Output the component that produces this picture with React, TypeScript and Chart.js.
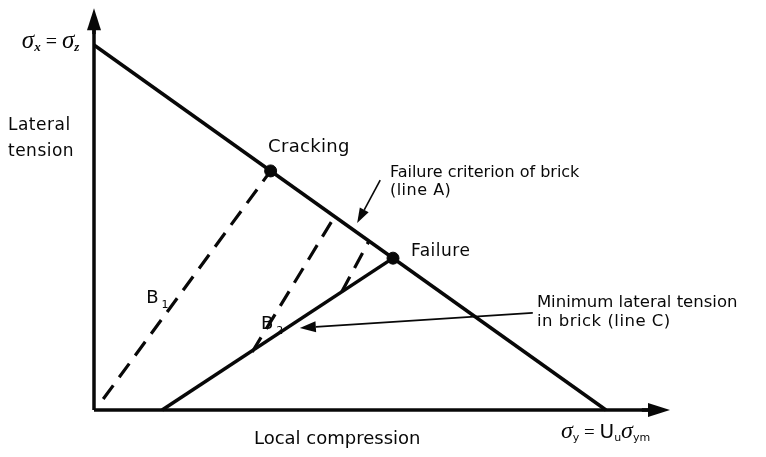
import React, { useEffect, useRef } from "react";
import { Chart, registerables } from "chart.js";

Chart.register(...registerables);

// Diagram units: local compression (σy) along x, lateral tension (σx) along y.
// Line A meets both axes at 10.
const lineA = [{ x: 0, y: 10 }, { x: 10, y: 0 }];
const lineC = [{ x: 1.33, y: 0 }, { x: 5.84, y: 4.16 }];
const lineB1 = [{ x: 0.18, y: 0.3 }, { x: 3.45, y: 6.55 }];
const lineB2 = [{ x: 3.09, y: 1.59 }, { x: 4.7, y: 5.3 }];
const lineB3 = [{ x: 4.84, y: 3.24 }, { x: 5.37, y: 4.63 }];
const keyPoints = [{ x: 3.45, y: 6.55 }, { x: 5.84, y: 4.16 }]; // Cracking, Failure
const yAxisLine = [{ x: 0, y: 0 }, { x: 0, y: 10.5 }];
const xAxisLine = [{ x: 0, y: 0 }, { x: 10.9, y: 0 }];

// Arrows (tail -> head) in diagram units
const arrows = [
  { from: [0, 10.3], to: [0, 11.01], len: 22, half: 7, width: 3.5 },
  { from: [10.7, 0], to: [11.25, 0], len: 22, half: 7, width: 3.5 },
  { from: [5.59, 6.3], to: [5.14, 5.12], len: 15, half: 5, width: 1.6 },
  { from: [8.57, 2.66], to: [4.02, 2.25], len: 16, half: 5.5, width: 1.6 },
];

const textLabels = [
  { text: "Lateral", x: -1.68, y: 7.67, size: 17, align: "left", spacing: 0.5 },
  { text: "tension", x: -1.68, y: 6.96, size: 17, align: "left", spacing: 0.5 },
  { text: "Cracking", x: 3.4, y: 7.07, size: 18, align: "left", spacing: 0.3 },
  { text: "Failure", x: 6.19, y: 4.22, size: 17, align: "left", spacing: 0.5 },
  { text: "Failure criterion of brick", x: 5.78, y: 6.38, size: 16, align: "left", spacing: 0 },
  { text: "(line A)", x: 5.78, y: 5.89, size: 16, align: "left", spacing: 0.5 },
  { text: "Minimum lateral tension", x: 8.65, y: 2.82, size: 16.5, align: "left", spacing: 0 },
  { text: "in brick (line C)", x: 8.65, y: 2.3, size: 16.5, align: "left", spacing: 0.5 },
  { text: "Local compression", x: 4.75, y: -0.93, size: 18, align: "center", spacing: 0 },
];

const richLabels = [
  {
    x: 1.02, y: 2.93,
    parts: [
      { t: "B", family: "DejaVu Sans", size: 18, style: "" },
      { t: "1", family: "DejaVu Sans", size: 11, style: "", sub: 5, gap: 3 },
    ],
  },
  {
    x: 3.26, y: 2.21,
    parts: [
      { t: "B", family: "DejaVu Sans", size: 18, style: "" },
      { t: "2", family: "DejaVu Sans", size: 11, style: "", sub: 5, gap: 3 },
    ],
  },
  {
    x: -1.41, y: 9.92,
    parts: [
      { t: "σ", family: "Liberation Serif", size: 25, style: "italic" },
      { t: "x", family: "Liberation Serif", size: 13, style: "italic bold", sub: 3 },
      { t: " = ", family: "Liberation Serif", size: 20, style: "" },
      { t: "σ", family: "Liberation Serif", size: 25, style: "italic" },
      { t: "z", family: "Liberation Serif", size: 13, style: "italic bold", sub: 3 },
    ],
  },
  {
    x: 9.12, y: -0.77,
    parts: [
      { t: "σ", family: "Liberation Serif", size: 24, style: "italic" },
      { t: "y", family: "DejaVu Sans", size: 11, style: "", sub: 3 },
      { t: " = ", family: "Liberation Serif", size: 19, style: "" },
      { t: "U", family: "DejaVu Sans", size: 20, style: "" },
      { t: "u", family: "DejaVu Sans", size: 11, style: "", sub: 3 },
      { t: "σ", family: "Liberation Serif", size: 24, style: "italic" },
      { t: "ym", family: "DejaVu Sans", size: 11, style: "", sub: 3 },
    ],
  },
];

const INK = "#080808";

const diagramPlugin = {
  id: "diagram",
  afterDatasetsDraw(chart: any) {
    const { ctx } = chart;
    const xs = chart.scales.x;
    const ys = chart.scales.y;
    const px = (v: number) => xs.getPixelForValue(v);
    const py = (v: number) => ys.getPixelForValue(v);
    ctx.save();
    ctx.fillStyle = INK;
    ctx.strokeStyle = INK;

    arrows.forEach((a) => {
      const x1 = px(a.from[0]), y1 = py(a.from[1]);
      const x2 = px(a.to[0]), y2 = py(a.to[1]);
      const ang = Math.atan2(y2 - y1, x2 - x1);
      const bx = x2 - a.len * Math.cos(ang);
      const by = y2 - a.len * Math.sin(ang);
      ctx.lineWidth = a.width;
      ctx.beginPath();
      ctx.moveTo(x1, y1);
      ctx.lineTo(bx, by);
      ctx.stroke();
      ctx.beginPath();
      ctx.moveTo(x2, y2);
      ctx.lineTo(bx + a.half * Math.sin(ang), by - a.half * Math.cos(ang));
      ctx.lineTo(bx - a.half * Math.sin(ang), by + a.half * Math.cos(ang));
      ctx.closePath();
      ctx.fill();
    });

    ctx.textBaseline = "alphabetic";
    textLabels.forEach((l) => {
      ctx.font = `${l.size}px "DejaVu Sans"`;
      (ctx as any).letterSpacing = `${l.spacing}px`;
      ctx.textAlign = l.align as CanvasTextAlign;
      ctx.fillText(l.text, px(l.x), py(l.y));
    });
    (ctx as any).letterSpacing = "0px";

    ctx.textAlign = "left";
    richLabels.forEach((r) => {
      let cx = px(r.x);
      const base = py(r.y);
      r.parts.forEach((p: any) => {
        ctx.font = `${p.style} ${p.size}px "${p.family}"`.trim();
        cx += p.gap || 0;
        ctx.fillText(p.t, cx, base + (p.sub || 0));
        cx += ctx.measureText(p.t).width;
      });
    });
    ctx.restore();
  },
};

function lineSet(data: any[], dashed = false, width = 3.5) {
  return {
    data,
    showLine: true,
    borderColor: INK,
    backgroundColor: INK,
    borderWidth: width,
    borderDash: dashed ? [17, 10] : [],
    borderCapStyle: "butt",
    pointRadius: 0,
    fill: false,
    clip: false,
  };
}

export default function App() {
  const ref = useRef<HTMLCanvasElement | null>(null);
  useEffect(() => {
    if (!ref.current) return;
    const chart = new Chart(ref.current, {
      type: "scatter",
      data: {
        datasets: [
          lineSet(yAxisLine),
          lineSet(xAxisLine),
          lineSet(lineA),
          lineSet(lineC),
          lineSet(lineB1, true, 3.2),
          lineSet(lineB2, true, 3.2),
          lineSet(lineB3, true, 3.2),
          {
            data: keyPoints,
            showLine: false,
            pointRadius: 6,
            pointBackgroundColor: INK,
            pointBorderColor: INK,
            clip: false,
          },
        ] as any,
      },
      options: {
        animation: false,
        responsive: false,
        maintainAspectRatio: false,
        events: [],
        layout: { padding: { left: 94, right: 57.6, top: 8.5, bottom: 47 } },
        plugins: { legend: { display: false }, tooltip: { enabled: false } },
        scales: {
          x: { type: "linear", min: 0, max: 12, display: false },
          y: { type: "linear", min: 0, max: 11, display: false },
        },
      },
      plugins: [diagramPlugin],
    });
    return () => chart.destroy();
  }, []);
  return (
    <div style={{ position: "fixed", left: 0, top: 0, width: 766, height: 457, background: "#fff" }}>
      <canvas ref={ref} width={766} height={457} style={{ display: "block" }} />
    </div>
  );
}
